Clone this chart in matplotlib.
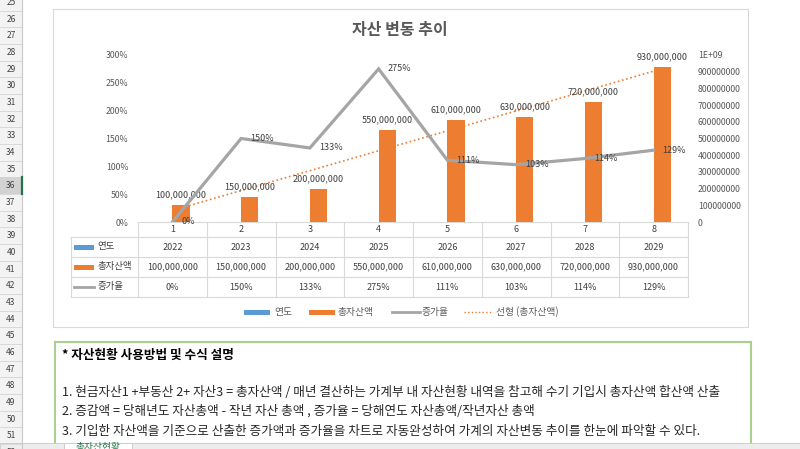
import numpy as np
import matplotlib.pyplot as plt
from matplotlib.patches import Rectangle

plt.rcParams['font.family'] = ['Noto Sans CJK KR', 'DejaVu Sans']

# data
cats = ['1', '2', '3', '4', '5', '6', '7', '8']
years = [2022, 2023, 2024, 2025, 2026, 2027, 2028, 2029]
total = [100000000, 150000000, 200000000, 550000000, 610000000, 630000000, 720000000, 930000000]
rate = [0.0, 1.50, 1.33, 2.75, 1.11, 1.03, 1.14, 1.29]
rate_labels = ['0%', '150%', '133%', '275%', '111%', '103%', '114%', '129%']
left_ticks = [0, 0.5, 1.0, 1.5, 2.0, 2.5, 3.0]
left_tick_labels = ['0%', '50%', '100%', '150%', '200%', '250%', '300%']
right_ticks = [0, 1e8, 2e8, 3e8, 4e8, 5e8, 6e8, 7e8, 8e8, 9e8, 1e9]
right_tick_labels = ['0', '100000000', '200000000', '300000000', '400000000', '500000000',
                     '600000000', '700000000', '800000000', '900000000', '1E+09']
title = '자산 변동 추이'
series_names = ['연도', '총자산액', '증가율', '선형 (총자산액)']
note_title = '* 자산현황 사용방법 및 수식 설명'
note_lines = [
    '1. 현금자산1 +부동산 2+ 자산3 = 총자산액 / 매년 결산하는 가계부 내 자산현황 내역을 참고해 수기 기입시 총자산액 합산액 산출',
    '2. 증감액 = 당해년도 자산총액 - 작년 자산 총액 , 증가율 = 당해연도 자산총액/작년자산 총액',
    '3. 기입한 자산액을 기준으로 산출한 증가액과 증가율을 차트로 자동완성하여 가계의 자산변동 추이를 한눈에 파악할 수 있다.',
]
rows = list(range(25, 53))

BLUE = '#5B9BD5'
ORANGE = '#ED7D31'
GRAY = '#A5A5A5'
TXT = '#404040'

fig = plt.figure(figsize=(8, 4.49), dpi=100)

# sheet background in pixel coords
bg = fig.add_axes([0, 0, 1, 1])
bg.set_xlim(0, 800)
bg.set_ylim(449, 0)
bg.axis('off')

# row headers
for n in rows:
    yc = 19 + (n - 26) * 16.667
    sel = (n == 36)
    bg.add_patch(Rectangle((0, yc - 8.33), 22, 16.667, fc='#D2D2D2' if sel else '#F3F3F3',
                           ec='none'))
    bg.plot([0, 22], [yc + 8.33, yc + 8.33], color='#D4D4D4', lw=0.6)
    bg.text(11, yc, str(n), ha='center', va='center', fontsize=6, color='#404040')
bg.plot([22, 22], [0, 449], color='#C8C8C8', lw=0.8)
yc36 = 19 + 10 * 16.667
bg.plot([21.5, 21.5], [yc36 - 8.3, yc36 + 8.3], color='#217346', lw=1.6)

# chart frame and title
bg.add_patch(Rectangle((53, 9), 695, 318, fc='white', ec='#D9D9D9', lw=0.8))
bg.text(400, 30, title, ha='center', va='center', fontsize=11.5, weight='bold', color='#595959')

# plot area
ax = fig.add_axes([138 / 800, (449 - 222) / 449, 550 / 800, 167 / 449])
ax2 = ax.twinx()
ax.set_zorder(ax2.get_zorder() + 1)
ax.patch.set_visible(False)

x = np.arange(len(cats))
ax2.bar(x - 0.125, years, width=0.25, color=BLUE)
ax2.bar(x + 0.125, total, width=0.25, color=ORANGE)
coef = np.polyfit(x + 1, total, 1)
ax2.plot(x, np.polyval(coef, x + 1), color=ORANGE, lw=1.2, ls=(0, (1, 1.6)))
ax.plot(x, rate, color=GRAY, lw=2.3, solid_joinstyle='miter')

for xi, v in zip(x, total):
    ax2.annotate(f'{v:,}', (xi + 0.125, v), xytext=(0, 7.2), textcoords='offset points',
                 ha='center', va='center', fontsize=6.5, color=TXT)
for xi, v, lbl in zip(x, rate, rate_labels):
    ax.annotate(lbl, (xi, v), xytext=(6.5, 0), textcoords='offset points',
                ha='left', va='center', fontsize=6.5, color=TXT)

ax.set_xlim(-0.5, 7.5)
ax.set_ylim(0, 3)
ax2.set_ylim(0, 1e9)
ax.set_yticks(left_ticks)
ax.set_yticklabels(left_tick_labels)
ax2.set_yticks(right_ticks)
ax2.set_yticklabels(right_tick_labels)
ax.set_xticks([])
for a in (ax, ax2):
    for s in a.spines.values():
        s.set_visible(False)
ax.tick_params(axis='y', length=0, pad=7, labelsize=6.3, labelcolor='#595959')
ax2.tick_params(axis='y', length=0, pad=7, labelsize=6.3, labelcolor='#595959')

# data table
def col_x(i):
    return 138 + (i + 0.5) * 68.75

grid = '#D9D9D9'
bg.plot([138, 688], [222, 222], color=grid, lw=0.8)
for yy in [237, 257, 277, 297]:
    bg.plot([70.7, 688], [yy, yy], color=grid, lw=0.8)
for i in range(len(cats) + 1):
    xx = 138 + i * 68.75
    bg.plot([xx, xx], [222, 297], color=grid, lw=0.8)
bg.plot([70.7, 70.7], [237, 297], color=grid, lw=0.8)

for i, c in enumerate(cats):
    bg.text(col_x(i), 229.5, c, ha='center', va='center', fontsize=6.5, color=TXT)
    bg.text(col_x(i), 247, str(years[i]), ha='center', va='center', fontsize=6.5, color=TXT)
    bg.text(col_x(i), 267, f'{total[i]:,}', ha='center', va='center', fontsize=6.5, color=TXT)
    bg.text(col_x(i), 287, rate_labels[i], ha='center', va='center', fontsize=6.5, color=TXT)

bg.add_patch(Rectangle((74, 244.5), 20, 5, fc=BLUE, ec='none'))
bg.add_patch(Rectangle((74, 264.5), 20, 5, fc=ORANGE, ec='none'))
bg.plot([74, 94], [286.5, 286.5], color=GRAY, lw=2)
for yy, name in zip([247, 267, 287], series_names[:3]):
    bg.text(97, yy, name, ha='left', va='center', fontsize=6.8, color=TXT)

# legend
ly = 312
bg.add_patch(Rectangle((244, ly - 2.5), 26, 5, fc=BLUE, ec='none'))
bg.text(274, ly, series_names[0], ha='left', va='center', fontsize=7, color='#595959')
bg.add_patch(Rectangle((309, ly - 2.5), 26, 5, fc=ORANGE, ec='none'))
bg.text(337, ly, series_names[1], ha='left', va='center', fontsize=7, color='#595959')
bg.plot([392, 420], [ly, ly], color=GRAY, lw=2)
bg.text(422, ly, series_names[2], ha='left', va='center', fontsize=7, color='#595959')
bg.plot([464, 493], [ly, ly], color=ORANGE, lw=1.0, ls=(0, (1, 1.6)))
bg.text(496, ly, series_names[3], ha='left', va='center', fontsize=7, color='#595959')

# note box
bg.add_patch(Rectangle((55, 342), 696, 130, fc='white', ec='#A9D08E', lw=1.5))
bg.text(62, 355, note_title, ha='left', va='center', fontsize=9.1, weight='bold', color='#000000')
for yy, line in zip([392, 411, 431], note_lines):
    bg.text(62, yy, line, ha='left', va='center', fontsize=9.1, color='#262626')

# sheet tabs
bg.add_patch(Rectangle((0, 443), 800, 10, fc='#EDEDED', ec='#C8C8C8', lw=0.6))
bg.add_patch(Rectangle((64, 443), 68, 10, fc='white', ec='#C8C8C8', lw=0.6))
bg.text(75, 447, '총자산현황', ha='left', va='center', fontsize=7, color='#217346')

fig.savefig('out.png', dpi=100)
